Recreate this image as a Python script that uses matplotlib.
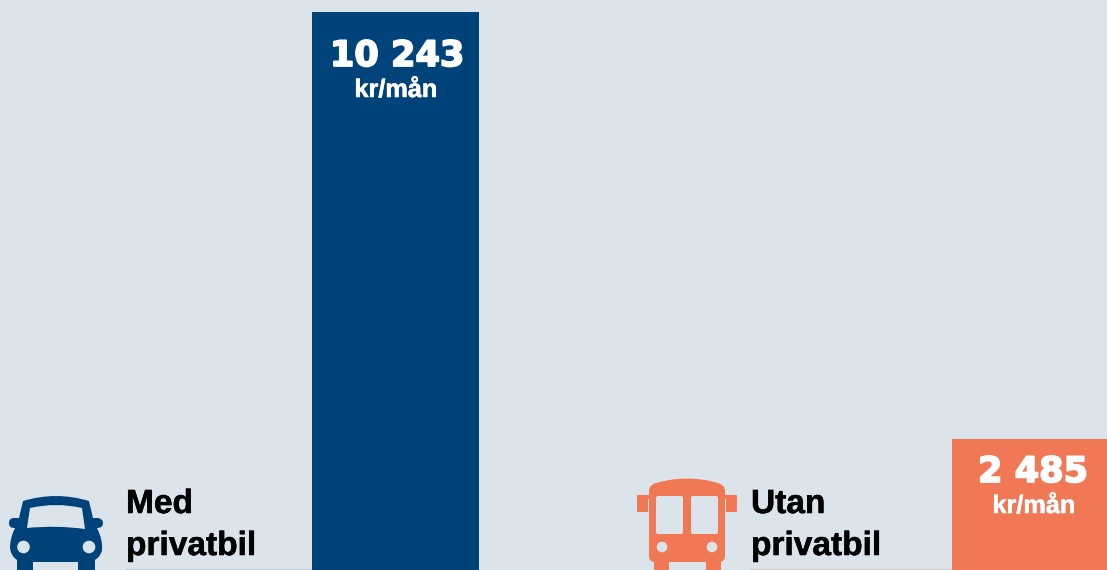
import matplotlib
matplotlib.use("Agg")
import matplotlib.pyplot as plt
import matplotlib.patheffects as pe
from matplotlib.patches import Circle, FancyBboxPatch, PathPatch, Rectangle
from matplotlib.path import Path

categories = ["Med\nprivatbil", "Utan\nprivatbil"]
values = [10243, 2485]
value_labels = ["10 243", "2 485"]
unit_label = "kr/mån"

BG = "#dce4eb"
BLUE = "#00427a"
ORANGE = "#f07855"

fig = plt.figure(figsize=(11.07, 5.7), dpi=100, facecolor=BG)

# bars, baseline sits a few px under the bottom edge of the picture
ax = fig.add_axes([0, 0, 1, 1])
ax.set_facecolor(BG)
ax.bar([395.5, 1035.5], values, width=167, color=[BLUE, ORANGE])
ax.set_xlim(0, 1107)
ax.set_ylim(105.4, 10461)
ax.axis("off")

# everything else is placed in image pixels
ov = fig.add_axes([0, 0, 1, 1])
ov.set_xlim(0, 1107)
ov.set_ylim(570, 0)
ov.axis("off")
ov.patch.set_alpha(0)

# thin lines under the labels
ov.plot([125, 312], [569.5, 569.5], color="#b9c6d3", lw=1.2, solid_capstyle="butt")
ov.plot([750, 952], [569.5, 569.5], color="#dcc9cc", lw=1.2, solid_capstyle="butt")

# the value font is a very heavy one, a white stroke thickens DejaVu Bold
heavy = [pe.withStroke(linewidth=1.3, foreground="white")]
medium = [pe.withStroke(linewidth=0.4, foreground="white")]
ov.text(397, 66, value_labels[0], color="white", fontsize=25.3, fontweight="bold",
        family="DejaVu Sans", ha="center", va="baseline", path_effects=heavy)
ov.text(396, 97, unit_label, color="white", fontsize=18.2, fontweight="bold",
        family="Liberation Sans", ha="center", va="baseline", path_effects=medium)
ov.text(1033, 482, value_labels[1], color="white", fontsize=25.3, fontweight="bold",
        family="DejaVu Sans", ha="center", va="baseline", path_effects=heavy)
ov.text(1034, 513, unit_label, color="white", fontsize=18.2, fontweight="bold",
        family="Liberation Sans", ha="center", va="baseline", path_effects=medium)

# category labels
for x, lab in zip([126, 751], categories):
    a, b = lab.split("\n")
    ov.text(x, 513, a, color="black", fontsize=24.1, fontweight="bold",
            family="Liberation Sans", ha="left", va="baseline", path_effects=[pe.withStroke(linewidth=0.4, foreground="black")])
    ov.text(x, 555, b, color="black", fontsize=24.1, fontweight="bold",
            family="Liberation Sans", ha="left", va="baseline", path_effects=[pe.withStroke(linewidth=0.4, foreground="black")])

# car icon
M, L, C, Z = Path.MOVETO, Path.LINETO, Path.CURVE3, Path.CLOSEPOLY
car = [
    (M, (23, 501)), (C, (56, 491)), (C, (89, 501)),
    (L, (93, 518)), (L, (98, 518)), (C, (103, 519)), (C, (103, 523)),
    (C, (103, 528)), (L, (97, 528)),
    (C, (103, 540)), (C, (102, 550)),
    (C, (101, 556)), (L, (95, 560)),
    (L, (95, 570)), (L, (78, 570)), (L, (78, 562)), (L, (33, 562)),
    (L, (33, 570)), (L, (17, 570)), (L, (17, 560)),
    (C, (11, 556)), (C, (10, 548)),
    (C, (10, 538)), (L, (15, 528)),
    (L, (14, 528)), (C, (9, 528)), (C, (9, 523)),
    (C, (9, 518)), (L, (14, 518)), (L, (19, 518)),
    (L, (23, 501)), (Z, (23, 501)),
]
ov.add_patch(PathPatch(Path([p[1] for p in car], [p[0] for p in car]), fc=BLUE, ec="none"))
shield = [
    (M, (30, 508)), (C, (56, 502)), (C, (82, 508)),
    (L, (85, 529)), (C, (56, 525)), (C, (27, 528)),
    (L, (30, 508)), (Z, (30, 508)),
]
ov.add_patch(PathPatch(Path([p[1] for p in shield], [p[0] for p in shield]), fc=BG, ec="none"))
for cx in [23.5, 89]:
    ov.add_patch(Circle((cx, 547), 6.3, fc=BG, ec="none"))

# bus icon
bus = [
    (M, (649, 556)), (L, (649, 491)), (C, (649, 485)), (C, (656, 483)),
    (C, (687, 474)), (C, (718, 483)), (C, (725, 485)), (C, (725, 491)),
    (L, (725, 556)), (C, (725, 562)), (C, (719, 562)),
    (L, (655, 562)), (C, (649, 562)), (C, (649, 556)), (Z, (649, 556)),
]
ov.add_patch(PathPatch(Path([p[1] for p in bus], [p[0] for p in bus]), fc=ORANGE, ec="none"))
for x0 in [654, 706]:
    ov.add_patch(Rectangle((x0, 556), 15, 14, fc=ORANGE, ec="none"))
for x0 in [637, 726]:
    ov.add_patch(FancyBboxPatch((x0, 495), 11, 17, boxstyle="round,pad=0,rounding_size=1", fc=ORANGE, ec="none"))
ov.add_patch(Rectangle((646, 495), 4, 4, fc=ORANGE, ec="none"))
ov.add_patch(Rectangle((724, 495), 4, 4, fc=ORANGE, ec="none"))
for x0, w in [(656, 27), (691, 27)]:
    ov.add_patch(FancyBboxPatch((x0, 496), w, 38, boxstyle="round,pad=0,rounding_size=2", fc=BG, ec="none"))
for cx in [662, 712]:
    ov.add_patch(Circle((cx, 547), 5.3, fc=BG, ec="none"))

fig.savefig("out.png", dpi=100, facecolor=BG)
